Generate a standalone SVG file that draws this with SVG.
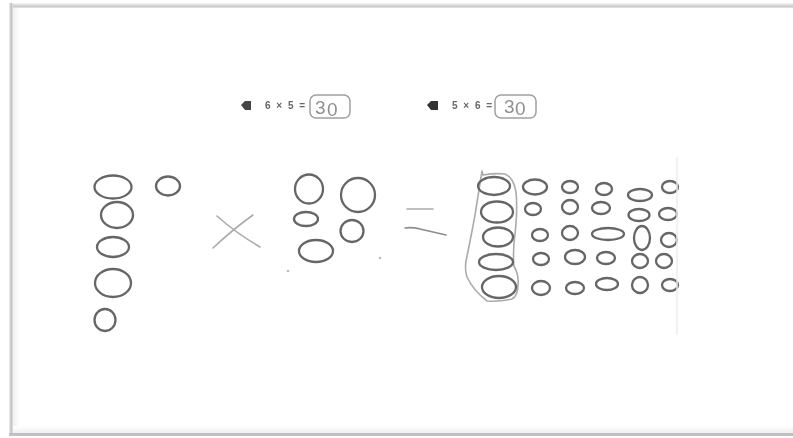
<svg xmlns="http://www.w3.org/2000/svg" width="793" height="438" viewBox="0 0 793 438">
<style>
.o{fill:none;stroke:#666;stroke-width:2.3}
.p{fill:none;stroke:#ababab;stroke-width:1.6;stroke-linecap:round;stroke-linejoin:round}
.b{fill:none;stroke:#a0a0a0;stroke-width:1.5}
.t{font-family:"Liberation Sans",Arial,sans-serif;font-size:10px;font-weight:bold;fill:#666;word-spacing:3px}
.h{font-family:"Liberation Sans",Arial,sans-serif;font-size:19px;fill:#8f8f8f}
</style>
<defs>
<filter id="s" x="-5%" y="-5%" width="110%" height="110%"><feGaussianBlur stdDeviation="0.7"/></filter>
<linearGradient id="gt" x1="0" y1="0" x2="0" y2="1"><stop offset="0" stop-color="#f6f6f6"/><stop offset="0.75" stop-color="#c8c8c8"/><stop offset="1" stop-color="#efefef"/></linearGradient>
<linearGradient id="gl" x1="0" y1="0" x2="1" y2="0"><stop offset="0" stop-color="#eeeeee"/><stop offset="0.6" stop-color="#c0c0c0"/><stop offset="1" stop-color="#e8e8e8"/></linearGradient>
<linearGradient id="gi" x1="0" y1="0" x2="1" y2="0"><stop offset="0" stop-color="#efefef"/><stop offset="1" stop-color="#fff"/></linearGradient>
<linearGradient id="gb" x1="0" y1="1" x2="0" y2="0"><stop offset="0" stop-color="#efefef"/><stop offset="1" stop-color="#fff"/></linearGradient>
</defs>
<rect width="793" height="438" fill="#fff"/>
<g id="frame">
<rect x="13" y="8" width="7" height="424" fill="url(#gi)"/>
<rect x="13" y="426" width="780" height="7" fill="url(#gb)"/>
<rect x="9" y="3" width="784" height="5" fill="url(#gt)"/>
<rect x="9" y="3" width="4" height="432" fill="url(#gl)"/>
<rect x="9" y="433" width="784" height="3" fill="#c0c0c0"/>
</g>
<g filter="url(#s)">
<g id="equation-1">
<path d="M241 105l4-4h6v9h-6z" fill="#444"/>
<text class="t" x="265" y="109">6 × 5 =</text>
<rect class="b" x="310" y="95" width="40" height="23" rx="6"/>
<text class="h" x="315" y="114">3</text>
<text class="h" x="327" y="116">0</text>
</g>
<g id="equation-2">
<path d="M427 105l4-4h7v9h-7z" fill="#333"/>
<text class="t" x="452" y="109">5 × 6 =</text>
<rect class="b" x="495" y="95" width="41" height="23" rx="6"/>
<text class="h" x="504" y="113">3</text>
<text class="h" x="515" y="115">0</text>
</g>
<g id="group-a">
<ellipse class="o" cx="113" cy="187" rx="18.5" ry="11.5"/>
<ellipse class="o" cx="117" cy="215" rx="16" ry="13"/>
<ellipse class="o" cx="113" cy="247" rx="16" ry="10"/>
<ellipse class="o" cx="113" cy="283" rx="18" ry="14"/>
<ellipse class="o" cx="105" cy="320" rx="10.5" ry="11"/>
<ellipse class="o" cx="168" cy="186" rx="12" ry="9.5"/>
</g>
<g id="times">
<path class="p" d="M217 216Q236 233 260 247"/>
<path class="p" d="M253 215Q232 230 213 248"/>
</g>
<g id="group-b">
<ellipse class="o" cx="309" cy="189" rx="14" ry="14.5"/>
<ellipse class="o" cx="358" cy="195" rx="17" ry="17"/>
<ellipse class="o" cx="306" cy="219" rx="12" ry="7"/>
<ellipse class="o" cx="352" cy="231" rx="11.5" ry="11"/>
<ellipse class="o" cx="316" cy="251" rx="17" ry="11"/>
<circle cx="288" cy="271" r="1.3" fill="#bbb"/>
<circle cx="380" cy="258" r="1.3" fill="#bbb"/>
</g>
<g id="equals">
<path class="p" d="M407 209H433"/>
<path class="p" d="M405 228Q412 227 420 229L446 235" style="stroke:#8c8c8c"/>
</g>
<g id="group-c">
<path class="p" d="M482 171L483 175Q495 173 505 174Q514 178 516 192Q518 212 514 243Q513 258 514 266Q519 275 518 284Q518 296 512 299Q497 302 487 301Q473 290 467 277Q464 268 467 256Q472 232 475 215Z"/>
<ellipse class="o" cx="494" cy="186" rx="16" ry="9"/>
<ellipse class="o" cx="497" cy="212" rx="16" ry="10.5"/>
<ellipse class="o" cx="498" cy="237" rx="15" ry="9.5"/>
<ellipse class="o" cx="496" cy="262" rx="17" ry="8"/>
<ellipse class="o" cx="499" cy="287" rx="17" ry="11"/>
<ellipse class="o" cx="535" cy="187" rx="12" ry="7.5"/>
<ellipse class="o" cx="533" cy="209" rx="8" ry="6"/>
<ellipse class="o" cx="540" cy="235" rx="8" ry="6"/>
<ellipse class="o" cx="541" cy="259" rx="8" ry="6"/>
<ellipse class="o" cx="541" cy="288" rx="9" ry="7"/>
<ellipse class="o" cx="570" cy="187" rx="8" ry="6"/>
<ellipse class="o" cx="570" cy="207" rx="8" ry="7"/>
<ellipse class="o" cx="570" cy="233" rx="8" ry="7"/>
<ellipse class="o" cx="575" cy="257" rx="10" ry="7"/>
<ellipse class="o" cx="575" cy="288" rx="9" ry="6"/>
<ellipse class="o" cx="604" cy="189" rx="8" ry="6"/>
<ellipse class="o" cx="601" cy="208" rx="9" ry="6"/>
<ellipse class="o" cx="608" cy="234" rx="16" ry="6"/>
<ellipse class="o" cx="606" cy="258" rx="9" ry="6"/>
<ellipse class="o" cx="607" cy="284" rx="11" ry="6"/>
<ellipse class="o" cx="640" cy="195" rx="12" ry="6"/>
<ellipse class="o" cx="639" cy="215" rx="10.5" ry="6"/>
<ellipse class="o" cx="642" cy="238" rx="8" ry="12"/>
<ellipse class="o" cx="640" cy="261" rx="8" ry="7"/>
<ellipse class="o" cx="640" cy="285" rx="8" ry="8"/>
<ellipse class="o" cx="670" cy="187" rx="8" ry="6"/>
<ellipse class="o" cx="668" cy="214" rx="9" ry="6"/>
<ellipse class="o" cx="669" cy="240" rx="8" ry="7"/>
<ellipse class="o" cx="664" cy="261" rx="8" ry="7"/>
<ellipse class="o" cx="670" cy="285" rx="8" ry="6"/>
</g>
<path d="M677 157V335" stroke="#ececec" stroke-width="1.5" fill="none"/>
</g>
</svg>
